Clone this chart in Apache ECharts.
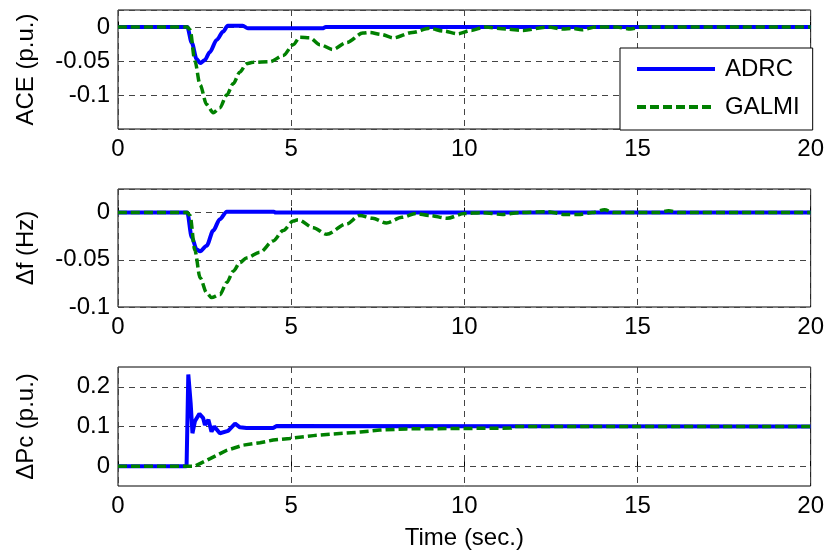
<!DOCTYPE html>
<html>
<head>
<meta charset="utf-8">
<script src="https://cdn.jsdelivr.net/npm/echarts@6/dist/echarts.min.js"></script>
<style>
html, body { margin: 0; padding: 0; background: #fff; }
#chart { width: 827px; height: 557px; }
</style>
</head>
<body>
<div id="chart"></div>
<script>
// ACE (p.u.)
const aceAdrcT = [0, 2.0, 2.13, 2.27, 2.37, 2.5, 2.65, 2.85, 3.03, 3.17, 3.6, 3.75, 5.9, 6.0, 20];
const aceAdrcV = [0, 0, -0.023, -0.047, -0.053, -0.049, -0.037, -0.019, -0.007, 0.002, 0.002, -0.002, -0.002, 0, 0];
const aceGalmiT = [0, 2.0, 2.08, 2.22, 2.37, 2.56, 2.75, 2.94, 3.14, 3.33, 3.52, 3.71, 3.9, 4.39, 4.77, 5.06, 5.25, 5.54, 5.83, 6.2, 6.6, 7.07, 7.27, 7.6, 7.95, 8.5, 9.0, 9.4, 9.8, 10.2, 10.6, 11.2, 11.7, 12.4, 12.85, 13.1, 13.4, 13.8, 14.4, 14.8, 15.1, 20];
const aceGalmiV = [0, 0, -0.004, -0.05, -0.085, -0.114, -0.126, -0.119, -0.1, -0.083, -0.066, -0.054, -0.052, -0.051, -0.042, -0.026, -0.015, -0.016, -0.026, -0.033, -0.023, -0.009, -0.008, -0.011, -0.016, -0.008, -0.002, -0.006, -0.010, -0.005, 0, -0.003, -0.005, 0, -0.003, -0.002, -0.004, 0, 0, -0.003, 0, 0];

// delta f (Hz)
const freqAdrcT = [0, 2.0, 2.13, 2.27, 2.37, 2.56, 2.75, 2.94, 3.14, 4.5, 4.55, 20];
const freqAdrcV = [0, 0, -0.026, -0.039, -0.041, -0.035, -0.019, -0.007, 0.001, 0.001, 0, 0];
const freqGalmiT = [0, 2.0, 2.08, 2.22, 2.37, 2.56, 2.7, 2.94, 3.14, 3.33, 3.52, 3.71, 4.1, 4.48, 4.77, 5.06, 5.2, 5.64, 6.02, 6.6, 6.98, 7.35, 7.75, 8.2, 8.6, 9.0, 9.5, 10.0, 10.5, 11.1, 11.6, 12.4, 12.9, 13.3, 13.7, 14.05, 14.3, 15.6, 15.9, 16.2, 20];
const freqGalmiV = [0, 0, -0.003, -0.04, -0.069, -0.085, -0.09, -0.087, -0.074, -0.062, -0.053, -0.048, -0.042, -0.03, -0.019, -0.009, -0.0075, -0.016, -0.023, -0.012, -0.003, -0.006, -0.011, -0.005, -0.001, -0.003, -0.006, -0.001, 0, -0.002, 0, 0.001, -0.002, -0.002, 0, 0.003, 0, 0, 0.002, 0, 0];

// delta Pc (p.u.)
const pcAdrcT = [0, 1.98, 2.03, 2.1, 2.15, 2.22, 2.35, 2.46, 2.51, 2.61, 2.7, 2.78, 2.94, 3.18, 3.38, 3.52, 3.71, 4.48, 4.58, 20];
const pcAdrcV = [0, 0, 0.231, 0.156, 0.083, 0.113, 0.132, 0.121, 0.104, 0.117, 0.087, 0.1, 0.083, 0.089, 0.107, 0.098, 0.096, 0.096, 0.101, 0.1];
const pcGalmiT = [0, 2.22, 2.66, 3.14, 3.62, 4.1, 4.48, 4.96, 5.64, 6.2, 7.0, 7.56, 8.33, 11.35, 11.45, 20];
const pcGalmiV = [0, 0, 0.019, 0.04, 0.053, 0.059, 0.066, 0.07, 0.077, 0.081, 0.086, 0.091, 0.094, 0.096, 0.1, 0.1];

const xTicks = [0, 5, 10, 15, 20];
const yNames = ["ACE (p.u.)", "\u0394f (Hz)", "\u0394Pc (p.u.)"];
const seriesNames = ["ADRC", "GALMI"];

const FONT = 'Arial, "Liberation Sans", sans-serif';
const BLUE = "#0000ff";
const GREEN = "#008000";

function zip(ts, vs){
  return ts.map((t, i) => [t, vs[i]]);
}

const panels = [
  { top: 10, height: 119, min: -0.15, max: 0.025, step: 0.05, labels: [0, -0.05, -0.1], adrc: zip(aceAdrcT, aceAdrcV), galmi: zip(aceGalmiT, aceGalmiV), smooth: 0.3 },
  { top: 189, height: 118, min: -0.1, max: 0.025, step: 0.05, labels: [0, -0.05, -0.1], adrc: zip(freqAdrcT, freqAdrcV), galmi: zip(freqGalmiT, freqGalmiV), smooth: 0.3 },
  { top: 367, height: 119, min: -0.05, max: 0.25, step: 0.05, labels: [0, 0.1, 0.2], adrc: zip(pcAdrcT, pcAdrcV), galmi: zip(pcGalmiT, pcGalmiV), smooth: 0 }
];

function isLabel(value, labels){
  return labels.some((l) => Math.abs(l - value) < 1e-9);
}

const chart = echarts.init(document.getElementById("chart"), null, { renderer: "canvas" });

chart.setOption({
  animation: false,
  backgroundColor: "#fff",
  textStyle: { fontFamily: FONT },
  grid: panels.map((p) => ({
    left: 118, width: 693, top: p.top, height: p.height,
    show: true, borderColor: "#000", borderWidth: 1, backgroundColor: "transparent"
  })),
  legend: {
    orient: "vertical",
    left: 620,
    top: 48,
    data: seriesNames,
    backgroundColor: "#fff",
    borderColor: "#000",
    borderWidth: 1,
    borderRadius: 0,
    padding: [9, 13, 11, 15],
    itemGap: 14,
    itemWidth: 78,
    itemHeight: 14,
    itemStyle: { opacity: 0 },
    lineStyle: { width: 4 },
    textStyle: { fontFamily: FONT, fontSize: 24, color: "#000", lineHeight: 24, padding: [0, 0, 0, 5] },
    z: 10
  },
  xAxis: panels.map((p, i) => ({
    type: "value",
    gridIndex: i,
    min: 0,
    max: 20,
    interval: 5,
    name: i === 2 ? "Time (sec.)" : "",
    nameLocation: "middle",
    nameGap: 40,
    nameTextStyle: { fontFamily: FONT, fontSize: 24, color: "#000" },
    axisLine: { show: false },
    axisTick: { show: true, inside: true, length: 5, lineStyle: { color: "#000" } },
    axisLabel: {
      fontFamily: FONT, fontSize: 24, color: "#000", margin: 8,
      formatter: (v) => xTicks.includes(v) ? String(v) : ""
    },
    splitLine: { show: true, lineStyle: { color: "#444", width: 1, type: [6, 5] } }
  })),
  yAxis: panels.map((p, i) => ({
    type: "value",
    gridIndex: i,
    min: p.min,
    max: p.max,
    interval: p.step,
    name: yNames[i],
    nameLocation: "middle",
    nameRotate: 90,
    nameGap: 80,
    nameTextStyle: { fontFamily: FONT, fontSize: 24, color: "#000" },
    axisLine: { show: false },
    axisTick: { show: false },
    axisLabel: {
      fontFamily: FONT, fontSize: 24, color: "#000", margin: 8,
      formatter: (v) => isLabel(v, p.labels) ? String(Math.round(v * 1000) / 1000) : ""
    },
    splitLine: {
      show: true,
      lineStyle: {
        color: i === 2 ? ["transparent", "#444"] : "#444",
        width: 1,
        type: [6, 5]
      }
    }
  })),
  series: panels.flatMap((p, i) => [
    {
      name: "ADRC",
      type: "line",
      xAxisIndex: i,
      yAxisIndex: i,
      data: p.adrc,
      symbol: "none",
      smooth: p.smooth,
      smoothMonotone: "x",
      lineStyle: { color: BLUE, width: 4 },
      itemStyle: { color: BLUE },
      z: 3
    },
    {
      name: "GALMI",
      type: "line",
      xAxisIndex: i,
      yAxisIndex: i,
      data: p.galmi,
      symbol: "none",
      smooth: p.smooth,
      smoothMonotone: "x",
      lineStyle: { color: GREEN, width: 3.5, type: [9, 4] },
      itemStyle: { color: GREEN },
      z: 4
    }
  ])
});
</script>
</body>
</html>
